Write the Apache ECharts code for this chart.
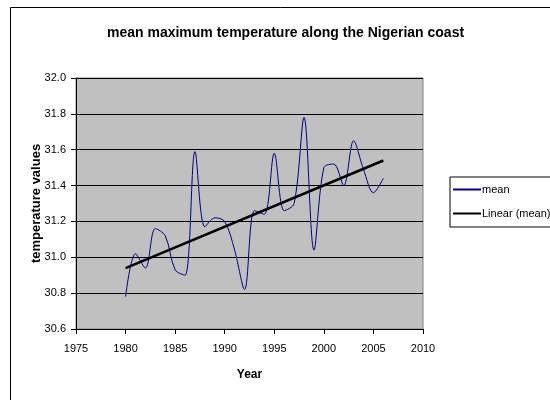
<!DOCTYPE html>
<html>
<head>
  <meta charset="utf-8" />
  <title>mean maximum temperature</title>
  <script src="https://cdn.jsdelivr.net/npm/echarts@6/dist/echarts.min.js"></script>
</head>
<body style="margin:0">
  <div id="main" style="width: 550px; height: 400px"></div>
  <script>
    let years = [1980, 1981, 1982, 1983, 1984, 1985, 1986, 1987, 1988, 1989, 1990, 1991, 1992, 1993,
      1994, 1995, 1996, 1997, 1998, 1999, 2000, 2001, 2002, 2003, 2004, 2005, 2006];
    let meanTemp = [30.78, 31.02, 30.94, 31.16, 31.12, 30.93, 30.90, 31.59, 31.17, 31.22, 31.20, 31.04, 30.82, 31.26,
      31.24, 31.58, 31.26, 31.30, 31.78, 31.04, 31.50, 31.52, 31.40, 31.65, 31.49, 31.36, 31.44];
    let trendYears = [1980, 2006];
    let trendValues = [30.94, 31.54];

    let meanData = years.map((y, i) => [y, meanTemp[i]]);
    let trendData = trendYears.map((y, i) => [y, trendValues[i]]);

    let font = "Liberation Sans, Arial, sans-serif";

    option = {
      animation: false,
      backgroundColor: "#fff",
      title: {
        text: "mean maximum temperature along the Nigerian coast",
        left: 102,
        top: 21,
        textStyle: { fontFamily: font, fontSize: 14, fontWeight: "bold", color: "#000" },
      },
      graphic: [
        {
          type: "rect",
          shape: { x: 10.5, y: 7.5, width: 560, height: 420 },
          style: { fill: null, stroke: "#000", lineWidth: 1 },
          silent: true,
        },
      ],
      grid: {
        left: 76,
        right: 127,
        top: 78,
        bottom: 71,
        show: true,
        backgroundColor: "#c0c0c0",
        borderColor: "#808080",
        borderWidth: 1,
      },
      legend: {
        orient: "vertical",
        left: 450,
        top: 177,
        padding: [7, 4, 8, 2],
        itemGap: 13,
        itemWidth: 28,
        itemHeight: 10,
        backgroundColor: "#fff",
        borderColor: "#000",
        borderWidth: 1,
        borderRadius: 0,
        itemStyle: { opacity: 0 },
        textStyle: { fontFamily: font, fontSize: 11, color: "#000", padding: [0, 0, 0, -4] },
        data: ["mean", "Linear (mean)"],
      },
      xAxis: {
        type: "value",
        min: 1975,
        max: 2010,
        interval: 5,
        name: "Year",
        nameLocation: "middle",
        nameGap: 40,
        nameMoveOverlap: false,
        nameTextStyle: { fontFamily: font, fontSize: 12, fontWeight: "bold", color: "#000" },
        axisLine: { lineStyle: { color: "#000" } },
        axisTick: { inside: false, length: 5, lineStyle: { color: "#000" } },
        axisLabel: {
          fontFamily: font,
          fontSize: 11,
          color: "#000",
          margin: 14,
          formatter: (v) => String(v),
        },
        splitLine: { show: false },
      },
      yAxis: {
        type: "value",
        min: 30.6,
        max: 32.0,
        interval: 0.2,
        name: "temperature values",
        nameLocation: "middle",
        nameGap: 33,
        nameMoveOverlap: false,
        nameTextStyle: { fontFamily: font, fontSize: 13, fontWeight: "bold", color: "#000" },
        axisLine: { show: true, lineStyle: { color: "#000" } },
        axisTick: { show: true, inside: false, length: 5, lineStyle: { color: "#000" } },
        axisLabel: {
          fontFamily: font,
          fontSize: 11,
          color: "#000",
          margin: 10,
          formatter: (v) => v.toFixed(1),
        },
        splitLine: { show: true, lineStyle: { color: "#000", width: 1 } },
      },
      series: [
        {
          name: "mean",
          type: "line",
          data: meanData,
          smooth: 0.33,
          symbol: "none",
          lineStyle: { color: "#000080", width: 1 },
          itemStyle: { color: "#000080" },
        },
        {
          name: "Linear (mean)",
          type: "line",
          data: trendData,
          symbol: "none",
          lineStyle: { color: "#000", width: 2.5 },
          itemStyle: { color: "#000" },
        },
      ],
    };

    let chart = echarts.init(document.getElementById("main"));
    chart.setOption(option);
  </script>
</body>
</html>
